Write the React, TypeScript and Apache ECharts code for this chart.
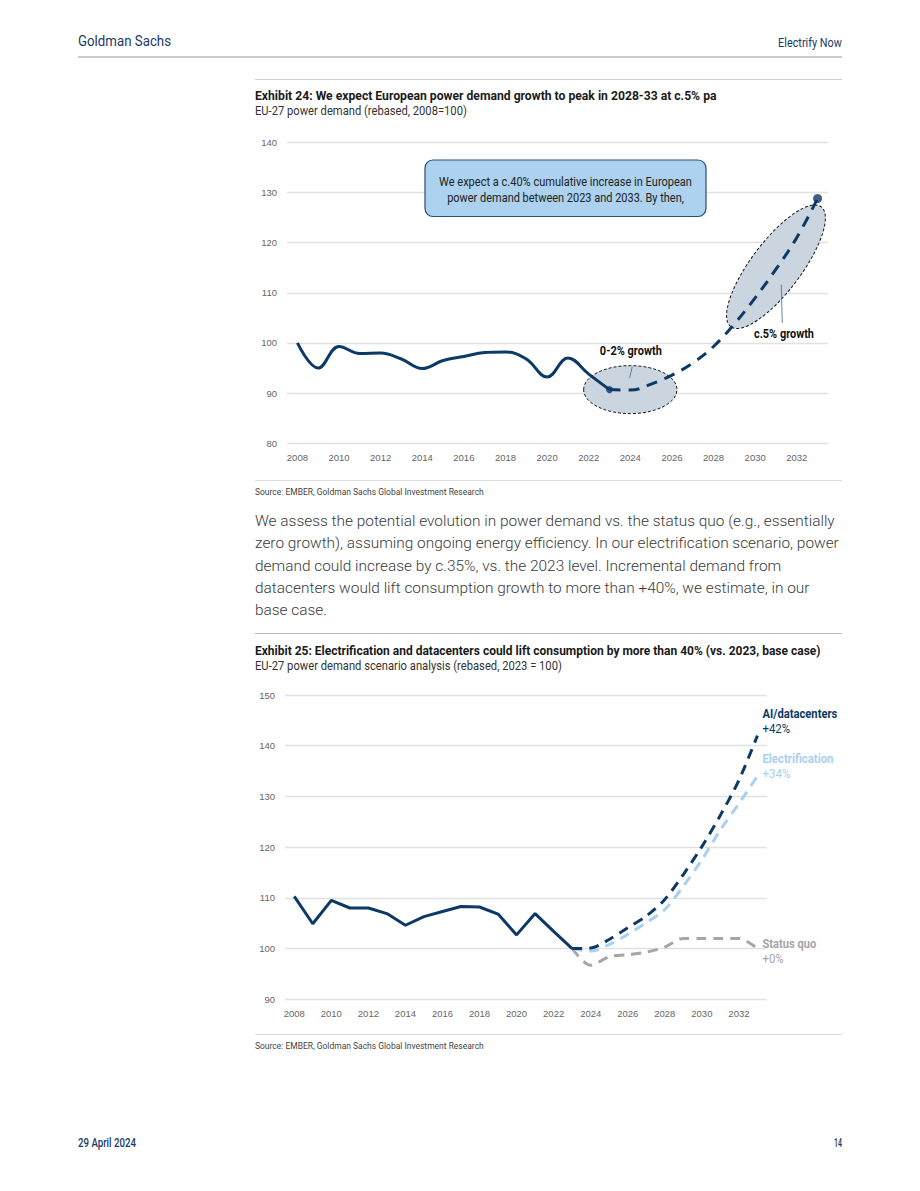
import React, { useEffect, useRef } from "react";
import * as echarts from "echarts";

const years = ["2008","2009","2010","2011","2012","2013","2014","2015","2016","2017","2018","2019","2020","2021","2022","2023","2024","2025","2026","2027","2028","2029","2030","2031","2032","2033"];

// Exhibit 24 (2008 = 100)
const hist1 = [100, 95.0, 99.3, 97.9, 98.0, 96.8, 94.9, 96.5, 97.3, 98.1, 98.2, 96.8, 93.2, 97.0, 93.8, 90.7];
const proj1 = [90.7, 90.6, 91.8, 93.6, 96.0, 99.3, 103.8, 109.0, 114.7, 121.0, 128.8];

// Exhibit 25 (2023 = 100)
const hist2 = [110.3, 104.9, 109.5, 108.0, 108.0, 106.9, 104.6, 106.3, 107.3, 108.3, 108.2, 106.8, 102.7, 106.9, 103.4, 100.0];
const aiProj = [100.0, 100.1, 101.8, 104.1, 106.4, 109.7, 114.6, 120.1, 126.3, 133.2, 142.0];
const elecProj = [100.0, 99.5, 100.8, 102.8, 105.1, 107.7, 112.3, 117.5, 123.4, 128.6, 134.0];
const sqProj = [100.0, 96.7, 98.4, 98.8, 99.3, 100.3, 102.0, 102.0, 102.0, 102.0, 100.0];

const scenarioNames = ["AI/datacenters", "Electrification", "Status quo"];

const paragraph = [
  "We assess the potential evolution in power demand vs. the status quo (e.g., essentially",
  "zero growth), assuming ongoing energy efficiency. In our electrification scenario, power",
  "demand could increase by c.35%, vs. the 2023 level. Incremental demand from",
  "datacenters would lift consumption growth to more than +40%, we estimate, in our",
  "base case.",
];

const NAVY = "#0c3966";
const LIGHT = "#a9d0f0";
const GREY = "#a6a6a6";
const CF = "Roboto, 'Liberation Sans', sans-serif";
const AF = "'Liberation Sans', Arial, sans-serif";

const startIdx = hist1.length - 1; // 2023
const pad = (n: number) => new Array(n).fill(null);
const histSeries = (arr: number[]) => arr.concat(pad(years.length - arr.length));
const projSeries = (arr: number[]) => pad(startIdx).concat(arr);

let measureCtx: CanvasRenderingContext2D | null = null;
function measure(text: string, size: number, weight: string | number, family: string) {
  if (!measureCtx) measureCtx = document.createElement("canvas").getContext("2d");
  if (!measureCtx) return text.length * size * 0.5;
  measureCtx.font = `${weight} ${size}px ${family}`;
  return measureCtx.measureText(text).width;
}

// text condensed horizontally to a target width
function ftxt(x: number, y: number, text: string, target: number | null, style: any = {}, z = 5) {
  const s = { fontFamily: CF, fontSize: 12, fontWeight: "normal", fill: "#222", align: "left", ...style };
  let sx = style.scale || 1;
  if (target) sx = target / measure(text, s.fontSize, s.fontWeight, s.fontFamily);
  delete s.scale;
  return {
    type: "text",
    x,
    y,
    z,
    scaleX: sx,
    silent: true,
    style: { text, x: 0, y: 0, verticalAlign: "middle", ...s },
  };
}
function hline(x1: number, x2: number, y: number, stroke = "#cfcfcf", w = 1) {
  return { type: "line", silent: true, shape: { x1, y1: y, x2, y2: y }, style: { stroke, lineWidth: w } };
}

const yAxisBase = {
  type: "value",
  axisLine: { show: false },
  axisTick: { show: false },
  splitLine: { lineStyle: { color: "#e1e1e1", width: 1.3 } },
  axisLabel: { color: "#666", fontFamily: AF, fontSize: 9.5, margin: 10 },
};
const xAxisBase = {
  type: "category",
  data: years,
  boundaryGap: true,
  axisLine: { show: false },
  axisTick: { show: false },
  axisLabel: { interval: 1, color: "#666", fontFamily: AF, fontSize: 9.5, margin: 9 },
};

export default function App() {
  const ref = useRef<HTMLDivElement>(null);
  useEffect(() => {
    if (!ref.current) return;
    const chart = echarts.init(ref.current, undefined, { renderer: "svg" });

    const pFont = "Roboto, 'Liberation Sans', sans-serif";
    const pScale = 580 / measure(paragraph[0], 15, 300, pFont);

    const staticGraphics: any[] = [
      ftxt(78, 41, "Goldman Sachs", 93, { fontSize: 15, fill: "#1c3a66" }),
      ftxt(842, 43, "Electrify Now", 64, { fontSize: 12, fill: "#1c3a66", align: "right" }),
      hline(78, 842, 57, "#9a9a9a", 1.2),
      hline(255, 842, 79.5),
      ftxt(255, 95, "Exhibit 24: We expect European power demand growth to peak in 2028-33 at c.5% pa", 462, { fontWeight: "bold", fontSize: 13, fill: "#1a1a1a" }),
      ftxt(255, 111, "EU-27 power demand (rebased, 2008=100)", 212, { fontSize: 12, fill: "#333" }),
      hline(255, 842, 480.5, "#dcdcdc"),
      ftxt(255, 492, "Source: EMBER, Goldman Sachs Global Investment Research", 229, { fontSize: 9.5, fill: "#444" }),
      ...paragraph.map((line, i) => ftxt(255, 521 + i * 22.3, line, null, { fontFamily: pFont, fontWeight: 300, fontSize: 15, fill: "#3a3a3a", scale: pScale })),
      hline(255, 842, 633.5, "#bdbdbd"),
      ftxt(255, 650, "Exhibit 25: Electrification and datacenters could lift consumption by more than 40% (vs. 2023, base case)", 566, { fontWeight: "bold", fontSize: 13, fill: "#1a1a1a" }),
      ftxt(255, 666, "EU-27 power demand scenario analysis (rebased, 2023 = 100)", 307, { fontSize: 12, fill: "#333" }),
      hline(255, 842, 1034.5, "#dcdcdc"),
      ftxt(255, 1046, "Source: EMBER, Goldman Sachs Global Investment Research", 229, { fontSize: 9.5, fill: "#444" }),
      ftxt(78, 1143, "29 April 2024", 58, { fontSize: 12.5, fontWeight: 500, fill: "#1c3a66" }),
      ftxt(842, 1143, "14", 8, { fontSize: 12.5, fontWeight: 500, fill: "#1c3a66", align: "right" }),
      // text box
      {
        type: "rect",
        z: 10,
        silent: true,
        shape: { x: 425, y: 160, width: 281, height: 56.5, r: 8 },
        style: { fill: "#acd2ef", stroke: "#2a4f78", lineWidth: 1.2 },
      },
      ftxt(565.5, 182, "We expect a c.40% cumulative increase in European", 253, { align: "center", fontSize: 12.5, fill: "#222" }, 11),
      ftxt(565.5, 197.5, "power demand between 2023 and 2033. By then,", 237, { align: "center", fontSize: 12.5, fill: "#222" }, 11),
    ];

    const option: any = {
      animation: false,
      backgroundColor: "#fff",
      grid: [
        { left: 287, top: 142.3, width: 541, height: 301 },
        { left: 285, top: 695, width: 481.7, height: 304.3 },
      ],
      xAxis: [
        { ...xAxisBase, gridIndex: 0 },
        { ...xAxisBase, gridIndex: 1 },
      ],
      yAxis: [
        { ...yAxisBase, gridIndex: 0, min: 80, max: 140, interval: 10 },
        { ...yAxisBase, gridIndex: 1, min: 90, max: 150, interval: 10 },
      ],
      series: [
        {
          type: "line", xAxisIndex: 0, yAxisIndex: 0, data: histSeries(hist1), smooth: 0.4, showSymbol: false,
          lineStyle: { color: NAVY, width: 3 }, z: 3,
        },
        {
          type: "line", xAxisIndex: 0, yAxisIndex: 0, data: projSeries(proj1), smooth: 0.4, showSymbol: false,
          lineStyle: { color: NAVY, width: 3, type: [11, 8] }, z: 3,
        },
        {
          type: "scatter", xAxisIndex: 0, yAxisIndex: 0, z: 4,
          data: [
            { value: [startIdx, hist1[hist1.length - 1]], symbolSize: 7 },
            { value: [years.length - 1, proj1[proj1.length - 1]], symbolSize: 9 },
          ],
          itemStyle: { color: NAVY },
        },
        {
          type: "line", xAxisIndex: 1, yAxisIndex: 1, data: histSeries(hist2), smooth: false, showSymbol: false,
          lineStyle: { color: NAVY, width: 3 }, z: 5,
        },
        {
          name: scenarioNames[2], type: "line", xAxisIndex: 1, yAxisIndex: 1, data: projSeries(sqProj), smooth: 0.3, showSymbol: false,
          lineStyle: { color: GREY, width: 3, type: [10, 7] }, z: 2,
        },
        {
          name: scenarioNames[1], type: "line", xAxisIndex: 1, yAxisIndex: 1, data: projSeries(elecProj), smooth: 0.3, showSymbol: false,
          lineStyle: { color: LIGHT, width: 3, type: [10, 7] }, z: 3,
        },
        {
          name: scenarioNames[0], type: "line", xAxisIndex: 1, yAxisIndex: 1, data: projSeries(aiProj), smooth: 0.3, showSymbol: false,
          lineStyle: { color: NAVY, width: 3, type: [10, 7] }, z: 4,
        },
      ],
      graphic: staticGraphics,
    };
    chart.setOption(option);

    // annotations anchored to data coordinates
    const c1 = chart.convertToPixel({ gridIndex: 0 }, [16, 90.7]) as number[];
    const c2 = chart.convertToPixel({ gridIndex: 0 }, [22.85, 115.2]) as number[];
    const ellipseStyle = { fill: "#cbd5df", stroke: "#1a1a1a", lineWidth: 1, lineDash: [3, 2] };
    const ann: any[] = [
      { type: "ellipse", z: 1, silent: true, x: c1[0], y: c1[1], shape: { cx: 0, cy: 0, rx: 46.7, ry: 24 }, style: ellipseStyle },
      { type: "ellipse", z: 1, silent: true, x: c2[0], y: c2[1], rotation: (53 * Math.PI) / 180, shape: { cx: 0, cy: 0, rx: 75, ry: 25 }, style: ellipseStyle },
      { type: "line", z: 1, silent: true, shape: { x1: c1[0] + 2, y1: c1[1] - 23, x2: c1[0] - 0.7, y2: c1[1] - 11.7 }, style: { stroke: "#3b6a96", lineWidth: 0.8 } },
      { type: "line", z: 1, silent: true, shape: { x1: c2[0] + 5.3, y1: c2[1] + 18, x2: c2[0] + 6.3, y2: c2[1] + 56.3 }, style: { stroke: "#3b6a96", lineWidth: 0.8 } },
      ftxt(c1[0] + 0.5, c1[1] - 39.3, "0-2% growth", 62, { align: "center", fontWeight: "bold", fontSize: 13, fill: "#111" }, 6),
      ftxt(c2[0] + 8, c2[1] + 67, "c.5% growth", 60, { align: "center", fontWeight: "bold", fontSize: 13, fill: "#111" }, 6),
    ];

    // scenario end labels for exhibit 25
    const ends = [
      { arr: aiProj, color: NAVY, dy: -22, w: 75 },
      { arr: elecProj, color: LIGHT, dy: -17, w: 71 },
      { arr: sqProj, color: GREY, dy: -5, w: 54 },
    ];
    ends.forEach((e, i) => {
      const last = e.arr[e.arr.length - 1];
      const p = chart.convertToPixel({ gridIndex: 1 }, [years.length - 1, last]) as number[];
      const pct = `+${Math.round(last - 100)}%`;
      ann.push(ftxt(p[0] + 5, p[1] + e.dy, scenarioNames[i], e.w, { fontWeight: "bold", fontSize: 12.5, fill: e.color }, 6));
      const nameScale = e.w / measure(scenarioNames[i], 12.5, "bold", CF);
      ann.push(ftxt(p[0] + 5, p[1] + e.dy + 15, pct, null, { fontSize: 12.5, fill: e.color, scale: nameScale * 1.02 }, 6));
    });

    chart.setOption({ graphic: staticGraphics.concat(ann) }, { replaceMerge: ["graphic"] });

    return () => chart.dispose();
  }, []);
  return (
    <div
      ref={ref}
      style={{ position: "absolute", left: 0, top: 0, width: 920, height: 1191, background: "#fff" }}
    />
  );
}
